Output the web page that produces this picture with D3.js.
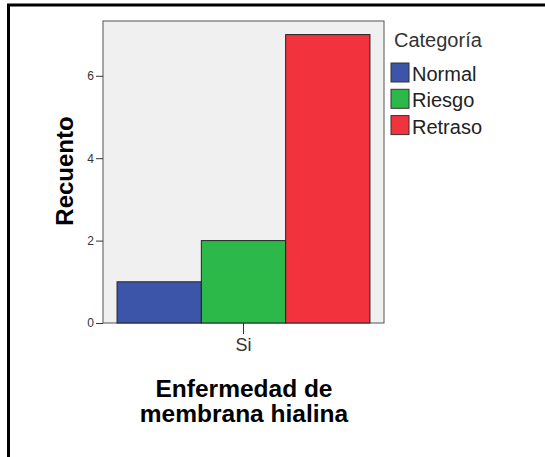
<!DOCTYPE html>
<html>
<head>
<meta charset="utf-8">
<script src="https://cdn.jsdelivr.net/npm/d3@7"></script>
<style>
  body { margin: 0; background: #fff; }
  svg { display: block; font-family: "Liberation Sans", Arial, sans-serif; }
</style>
</head>
<body>
<svg id="chart"></svg>
<script>
var WIDTH = 545;
var HEIGHT = 457;

// data
var categories = ["Si"];
var series = ["Normal", "Riesgo", "Retraso"];
var counts = [1, 2, 7];
var colors = ["#3c55a8", "#2db84a", "#f2323c"];
var yTicks = [0, 2, 4, 6];

var plot = { left: 103, right: 384, top: 21, bottom: 323 };

var svg = d3.select("#chart")
    .attr("width", WIDTH)
    .attr("height", HEIGHT);

// outer frame (only top and left show in the window)
svg.append("rect")
    .attr("x", 8.5)
    .attr("y", 5)
    .attr("width", 600)
    .attr("height", 600)
    .attr("fill", "none")
    .attr("stroke", "#000")
    .attr("stroke-width", 3);

var y = d3.scaleLinear()
    .domain([0, 7.33])
    .range([plot.bottom, plot.top]);

var x = d3.scaleBand()
    .domain(categories)
    .range([plot.left, plot.right])
    .paddingInner(0.1)
    .paddingOuter(0.05);

var xSub = d3.scaleBand()
    .domain(series)
    .range([0, x.bandwidth()]);

// plot background
svg.append("rect")
    .attr("x", plot.left)
    .attr("y", plot.top)
    .attr("width", plot.right - plot.left)
    .attr("height", plot.bottom - plot.top)
    .attr("fill", "#f0f0f0")
    .attr("stroke", "#555")
    .attr("stroke-width", 1);

// bars
svg.selectAll("rect.bar")
    .data(series)
    .enter()
    .append("rect")
    .attr("class", "bar")
    .attr("x", function(d) { return x("Si") + xSub(d); })
    .attr("y", function(d, i) { return y(counts[i]); })
    .attr("width", xSub.bandwidth())
    .attr("height", function(d, i) { return y(0) - y(counts[i]); })
    .attr("fill", function(d, i) { return colors[i]; })
    .attr("stroke", "#222")
    .attr("stroke-width", 1);

// y axis
var yAxis = d3.axisLeft(y)
    .tickValues(yTicks)
    .tickSize(7)
    .tickPadding(2);

var gy = svg.append("g")
    .attr("transform", "translate(" + plot.left + ",0)")
    .call(yAxis)
    .attr("font-family", "Liberation Sans, Arial, sans-serif")
    .attr("font-size", 12);
gy.select(".domain").remove();
gy.selectAll(".tick line").attr("stroke", "#333");
gy.selectAll(".tick text").attr("fill", "#333");

// x axis
var xAxis = d3.axisBottom(x)
    .tickSize(11)
    .tickPadding(4);

var gx = svg.append("g")
    .attr("transform", "translate(0," + plot.bottom + ")")
    .call(xAxis)
    .attr("font-family", "Liberation Sans, Arial, sans-serif")
    .attr("font-size", 18);
gx.select(".domain").remove();
gx.selectAll(".tick line").attr("stroke", "#333");
gx.selectAll(".tick text").attr("fill", "#333");

// axis titles
svg.append("text")
    .attr("transform", "translate(73,171) rotate(-90)")
    .attr("text-anchor", "middle")
    .style("font-size", "24px")
    .style("font-weight", "bold")
    .attr("fill", "#000")
    .text("Recuento");

svg.append("text")
    .attr("x", 244)
    .attr("y", 397)
    .attr("text-anchor", "middle")
    .style("font-size", "24.5px")
    .style("font-weight", "bold")
    .attr("fill", "#000")
    .text("Enfermedad de");

svg.append("text")
    .attr("x", 244)
    .attr("y", 422)
    .attr("text-anchor", "middle")
    .style("font-size", "24.5px")
    .style("font-weight", "bold")
    .attr("fill", "#000")
    .text("membrana hialina");

// legend
svg.append("text")
    .attr("x", 394)
    .attr("y", 47)
    .style("font-size", "20px")
    .attr("fill", "#333")
    .text("Categoría");

var legend = svg.selectAll("g.legend")
    .data(series)
    .enter()
    .append("g")
    .attr("class", "legend")
    .attr("transform", function(d, i) { return "translate(391," + (63 + i * 26.3) + ")"; });

legend.append("rect")
    .attr("width", 18)
    .attr("height", 19)
    .attr("fill", function(d, i) { return colors[i]; })
    .attr("stroke", "#333")
    .attr("stroke-width", 1);

legend.append("text")
    .attr("x", 21)
    .attr("y", 18)
    .style("font-size", "20px")
    .attr("fill", "#222")
    .text(function(d) { return d; });
</script>
</body>
</html>
